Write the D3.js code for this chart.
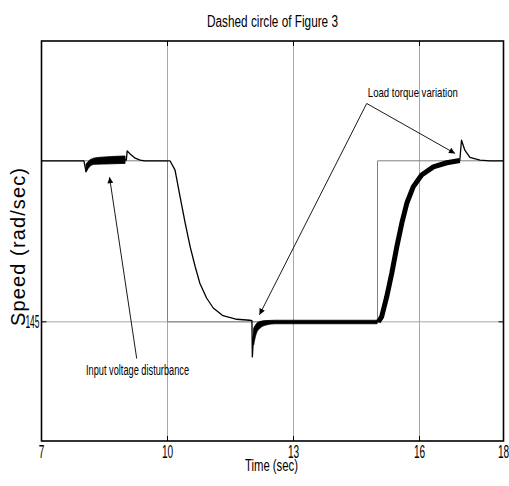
<!DOCTYPE html>
<html>
<head>
<meta charset="utf-8">
<script src="https://cdn.jsdelivr.net/npm/d3@7"></script>
<style>
    body { margin: 0; background: #fff; }
    text { fill: black; }
    .narrow { font-family: "Liberation Sans Narrow", "Arial Narrow", "Liberation Sans", Arial, sans-serif; }
</style>
</head>
<body>
<script>

// axis ticks
var xTicks = [7, 10, 13, 16, 18],
    yTicks = [145];

// motor speed (time in sec, speed in rad/sec)
var speedT = [7.00, 8.01, 8.06, 8.11, 8.20, 8.39, 8.99, 9.02, 9.04, 9.11, 9.23, 9.35, 9.46,
              10.06, 10.18, 10.30, 10.42, 10.54, 10.66, 10.77, 10.93, 11.09, 11.32, 11.65, 11.96,
              12.01, 12.02, 12.05, 12.08, 12.15, 12.27, 12.44, 14.99,
              15.02, 15.10, 15.22, 15.34, 15.46, 15.58, 15.70, 15.85, 16.05, 16.33, 16.65, 16.96,
              17.00, 17.08, 17.20, 17.44, 17.68, 18.00];
var speedV = [150.00, 150.00, 149.66, 149.80, 149.99, 150.02, 150.04, 150.02, 150.31, 150.21, 150.08, 150.02, 150.00,
              150.00, 149.71, 148.88, 148.07, 147.33, 146.71, 146.20, 145.74, 145.43, 145.19, 145.08, 145.05,
              145.04, 143.91, 144.59, 144.80, 144.91, 144.97, 144.99, 144.99,
              145.00, 145.16, 145.78, 146.51, 147.33, 148.07, 148.69, 149.19, 149.56, 149.81, 149.94, 150.01,
              150.64, 150.33, 150.11, 150.02, 150.00, 150.00];

// reference speed
var refT = [7, 10, 10, 15, 15, 18],
    refV = [150, 150, 145, 145, 150, 150];

// ripple band after the input voltage disturbance
var rippleAT  = [8.06, 8.155, 8.27, 8.51, 8.99],
    rippleAHi = [149.90, 150.03, 150.09, 150.12, 150.15],
    rippleALo = [149.66, 149.83, 149.89, 149.90, 149.92];

// ripple band at the low speed level
var rippleBT  = [12.05, 12.11, 12.20, 12.345, 12.56, 14.99],
    rippleBHi = [144.80, 144.93, 145.01, 145.04, 145.05, 145.05],
    rippleBLo = [144.28, 144.62, 144.80, 144.90, 144.94, 144.94];

// ripple during the speed rise (time span)
var rippleCSpan = [15.0, 16.97];

// annotations: label anchor, arrow start, arrow tips
var notes = [
    { label: "Load torque variation", t: 14.77, v: 151.98, from: [14.743, 151.78], tips: [[12.19, 145.22], [16.845, 150.23]], len: 90, size: 13 },
    { label: "Input voltage disturbance", t: 8.06, v: 143.35, from: [9.267, 143.86], tips: [[8.62, 149.49]], len: 103, size: 14 }
];

var W = 509, H = 486;
var margin = { top: 41, right: 5.5, bottom: 45, left: 41.5 };

var x = d3.scaleLinear().domain([7, 18]).range([margin.left, W - margin.right]);
var y = d3.scaleLinear().domain([141.3, 153.72]).range([H - margin.bottom, margin.top]);

var svg = d3.select("body").append("svg")
    .attr("width", W)
    .attr("height", H);

svg.append("defs").append("marker")
    .attr("id", "head")
    .attr("viewBox", "0 0 10 10")
    .attr("refX", 10).attr("refY", 5)
    .attr("markerWidth", 9).attr("markerHeight", 6)
    .attr("markerUnits", "userSpaceOnUse")
    .attr("orient", "auto")
    .append("path")
    .attr("d", "M0,0L10,5L0,10z")
    .attr("fill", "black");

// grid
var x0 = x.range()[0], x1 = x.range()[1], y0 = y.range()[1], y1 = y.range()[0];
svg.append("g").selectAll("line")
    .data(xTicks.slice(1, -1)).enter().append("line")
    .attr("x1", d => x(d)).attr("x2", d => x(d))
    .attr("y1", y0).attr("y2", y1)
    .attr("stroke", "#a8a8a8").attr("stroke-width", 1);
svg.append("g").selectAll("line")
    .data(yTicks).enter().append("line")
    .attr("x1", x0).attr("x2", x1)
    .attr("y1", d => y(d)).attr("y2", d => y(d))
    .attr("stroke", "#a8a8a8").attr("stroke-width", 1);

// reference
var refLine = d3.line().x(d => x(d[0])).y(d => y(d[1]));
svg.append("path")
    .attr("d", refLine(d3.zip(refT, refV)))
    .attr("fill", "none").attr("stroke", "#808080").attr("stroke-width", 1);

// ripple bands
function band(ts, hi, lo) {
    var area = d3.area().x(d => x(d[0])).y0(d => y(d[2])).y1(d => y(d[1])).curve(d3.curveMonotoneX);
    svg.append("path")
        .attr("d", area(d3.zip(ts, hi, lo)))
        .attr("fill", "black").attr("stroke", "black").attr("stroke-width", 0.8);
}
band(rippleAT, rippleAHi, rippleALo);
band(rippleBT, rippleBHi, rippleBLo);

var speed = d3.zip(speedT, speedV);
var line = d3.line().x(d => x(d[0])).y(d => y(d[1]));

svg.append("path")
    .attr("d", line(speed.filter(d => d[0] >= rippleCSpan[0] && d[0] <= rippleCSpan[1])))
    .attr("fill", "none").attr("stroke", "black").attr("stroke-width", 5)
    .attr("stroke-linejoin", "round");

svg.append("path")
    .attr("d", line(speed))
    .attr("fill", "none").attr("stroke", "black").attr("stroke-width", 1.3)
    .attr("stroke-linejoin", "round");

// frame
svg.append("rect")
    .attr("x", x0).attr("y", y0)
    .attr("width", x1 - x0).attr("height", y1 - y0)
    .attr("fill", "none").attr("stroke", "black").attr("stroke-width", 1.6);

// inward ticks
var tk = 5;
var ticks = svg.append("g").attr("stroke", "black").attr("stroke-width", 1);
xTicks.forEach(function (d) {
    ticks.append("line").attr("x1", x(d)).attr("x2", x(d)).attr("y1", y1).attr("y2", y1 - tk);
    ticks.append("line").attr("x1", x(d)).attr("x2", x(d)).attr("y1", y0).attr("y2", y0 + tk);
});
yTicks.forEach(function (d) {
    ticks.append("line").attr("x1", x0).attr("x2", x0 + tk).attr("y1", y(d)).attr("y2", y(d));
    ticks.append("line").attr("x1", x1).attr("x2", x1 - tk).attr("y1", y(d)).attr("y2", y(d));
});

// tick labels
svg.append("g").selectAll("text")
    .data(xTicks).enter().append("text")
    .attr("class", "narrow")
    .attr("x", d => x(d)).attr("y", y1 + 17)
    .attr("text-anchor", "middle")
    .attr("font-size", 18)
    .attr("textLength", d => String(d).length * 5.6)
    .attr("lengthAdjust", "spacingAndGlyphs")
    .text(d => d);

svg.append("g").selectAll("text")
    .data(yTicks).enter().append("text")
    .attr("class", "narrow")
    .attr("x", x0 - 2).attr("y", d => y(d) + 6.5)
    .attr("text-anchor", "end")
    .attr("font-size", 18)
    .attr("textLength", d => String(d).length * 4.7)
    .attr("lengthAdjust", "spacingAndGlyphs")
    .text(d => d);

// titles
svg.append("text")
    .attr("class", "narrow")
    .attr("x", (x0 + x1) / 2).attr("y", 27)
    .attr("text-anchor", "middle")
    .attr("font-size", 16)
    .attr("textLength", 131).attr("lengthAdjust", "spacingAndGlyphs")
    .text("Dashed circle of Figure 3");

svg.append("text")
    .attr("class", "narrow")
    .attr("x", 271.5).attr("y", 471)
    .attr("text-anchor", "middle")
    .attr("font-size", 17)
    .attr("textLength", 53).attr("lengthAdjust", "spacingAndGlyphs")
    .text("Time (sec)");

svg.append("text")
    .attr("transform", "translate(25," + ((y0 + y1) / 2 + 6) + ") rotate(-90)")
    .attr("text-anchor", "middle")
    .attr("font-family", "'Liberation Sans', Arial, sans-serif")
    .attr("font-size", 20)
    .attr("textLength", 158).attr("lengthAdjust", "spacing")
    .text("Speed (rad/sec)");

// annotations
notes.forEach(function (n) {
    n.tips.forEach(function (tip) {
        svg.append("line")
            .attr("x1", x(n.from[0])).attr("y1", y(n.from[1]))
            .attr("x2", x(tip[0])).attr("y2", y(tip[1]))
            .attr("stroke", "black").attr("stroke-width", 0.9)
            .attr("marker-end", "url(#head)");
    });
    svg.append("text")
        .attr("class", "narrow")
        .attr("x", x(n.t)).attr("y", y(n.v))
        .attr("font-size", n.size)
        .attr("textLength", n.len).attr("lengthAdjust", "spacingAndGlyphs")
        .text(n.label);
});

</script>
</body>
</html>
